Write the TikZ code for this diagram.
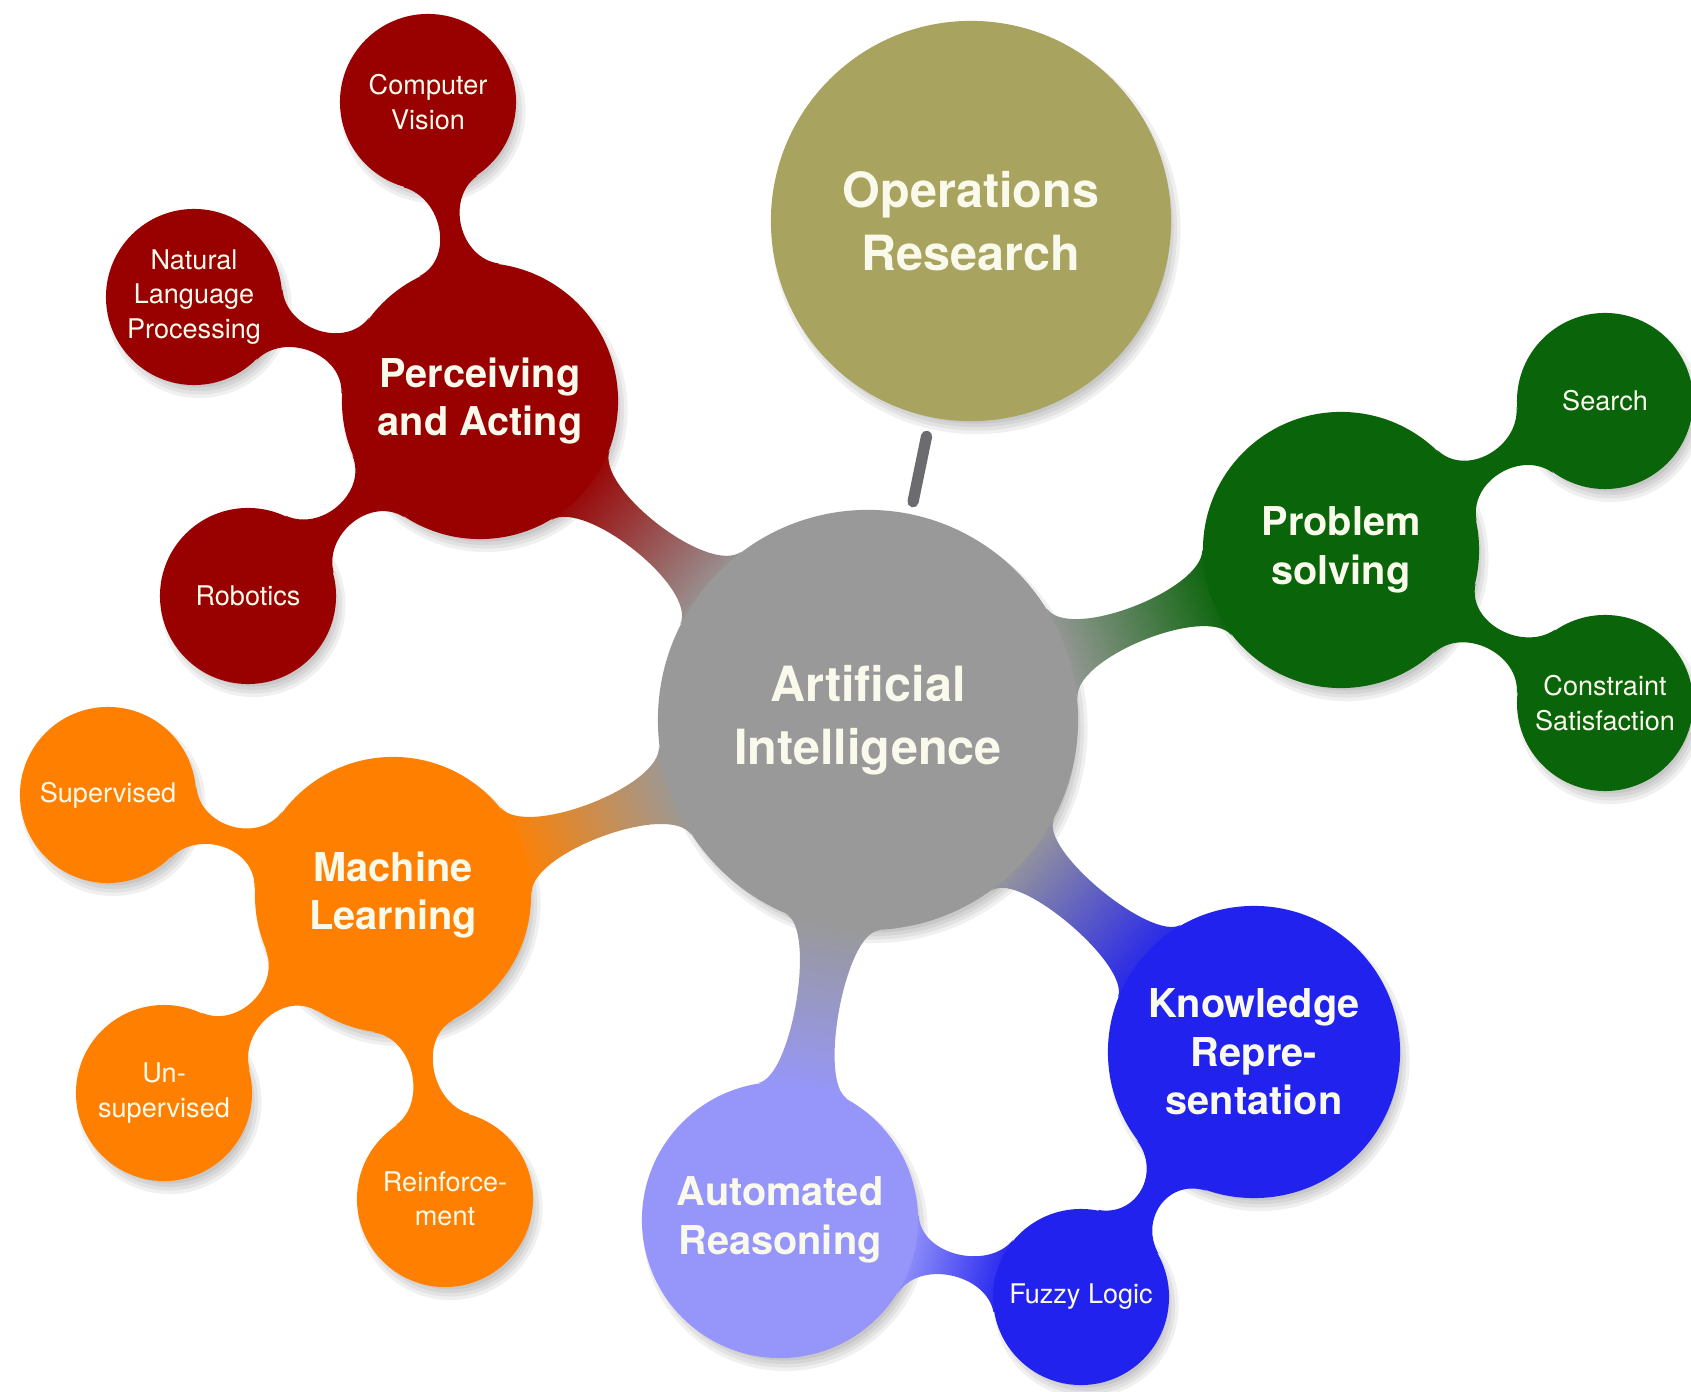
\documentclass[tikz,border=0pt]{standalone}
\usepackage{fontspec}
\setmainfont{TeX Gyre Heros}
\usetikzlibrary{calc}

\definecolor{aigray}{RGB}{153,153,153}
\definecolor{orolive}{RGB}{168,163,94}
\definecolor{pared}{RGB}{153,0,0}
\definecolor{psgreen}{RGB}{10,100,10}
\definecolor{mlorange}{RGB}{255,128,0}
\definecolor{krblue}{RGB}{34,34,238}
\definecolor{arlilac}{RGB}{150,150,250}
\definecolor{labeltext}{RGB}{250,250,236}
\definecolor{orline}{RGB}{108,108,112}

\pgfdeclarelayer{bars}
\pgfsetlayers{bars,main}

% bar between two circles: from, to, half angle at from, half angle at to, pull, colour from, colour to
\newcommand{\conbar}[7]{%
	\pgfmathanglebetweenpoints{\pgfpointanchor{#1}{center}}{\pgfpointanchor{#2}{center}}%
	\let\cbAng\pgfmathresult
	\pgfmathsetmacro{\cbA}{\cbAng+#3}%
	\pgfmathsetmacro{\cbB}{\cbAng+180-#4}%
	\pgfmathsetmacro{\cbC}{\cbAng+180+#4}%
	\pgfmathsetmacro{\cbD}{\cbAng-#3}%
	\pgfmathsetmacro{\cbOA}{\cbAng+#3-90}%
	\pgfmathsetmacro{\cbOB}{\cbAng-90-#4}%
	\pgfmathsetmacro{\cbOC}{\cbAng+90+#4}%
	\pgfmathsetmacro{\cbOD}{\cbAng+90-#3}%
	\pgfmathsetmacro{\cbSh}{\cbAng+90}%
	\shade[top color=#6, bottom color=#7, shading angle=\cbSh]
		(#1.\cbA) .. controls ($(#1.\cbA)+(\cbOA:#5)$) and ($(#2.\cbB)+(\cbOB:#5)$) .. (#2.\cbB)
		-- (#2.\cbC) .. controls ($(#2.\cbC)+(\cbOC:#5)$) and ($(#1.\cbD)+(\cbOD:#5)$) .. (#1.\cbD)
		-- cycle;
}

\begin{document}
\begin{tikzpicture}[x=0.01cm, y=0.01cm]
	\tikzstyle{every node} = [circle, inner sep=0pt, align=center, text=labeltext]
	\tikzstyle{root} = [minimum size=4.2cm, font=\bfseries\fontsize{13.8}{17.8}\selectfont]
	\tikzstyle{branch} = [minimum size=2.76cm, font=\bfseries\fontsize{11.3}{13.8}\selectfont]
	\tikzstyle{leaf} = [minimum size=1.76cm, font=\fontsize{7.7}{9.8}\selectfont]
	\useasboundingbox (0,0) rectangle (1691,-1392);

	\node[root, fill=aigray] (AI) at (868,-720) {Artificial\\Intelligence};
	\node[root, fill=orolive, minimum size=4.0cm] (OR) at (971,-221) {Operations\\Research};

	\node[branch, fill=pared] (PA) at (480,-401) {Perceiving\\and Acting};
	\node[leaf, fill=pared] (CV) at (428,-102) {Computer\\Vision};
	\node[leaf, fill=pared] (NL) at (194,-297) {Natural\\Language\\Processing};
	\node[leaf, fill=pared] (RO) at (248,-596) {Robotics};

	\node[branch, fill=psgreen] (PS) at (1341,-550) {Problem\\solving};
	\node[leaf, fill=psgreen] (SE) at (1605,-401) {Search};
	\node[leaf, fill=psgreen] (CS) at (1605,-703) {Constraint\\Satisfaction};

	\node[branch, fill=mlorange] (ML) at (393,-895) {Machine\\Learning};
	\node[leaf, fill=mlorange] (SU) at (108,-795) {Supervised};
	\node[leaf, fill=mlorange] (UN) at (164,-1093) {Un-\\supervised};
	\node[leaf, fill=mlorange] (RE) at (445,-1199) {Reinforce-\\ment};

	\node[branch, fill=krblue, minimum size=2.92cm] (KR) at (1254,-1052) {Knowledge\\Repre-\\sentation};
	\node[leaf, fill=krblue] (FL) at (1081,-1297) {Fuzzy Logic};
	\node[branch, fill=arlilac] (AR) at (780,-1220) {Automated\\Reasoning};

	\draw[line width=3.2pt, orline, line cap=round, shorten <=0.19cm, shorten >=0.12cm] (OR) -- (AI);

	\begin{pgfonlayer}{bars}
	% soft shadows
	\foreach \nd in {AI,OR,PA,CV,NL,RO,PS,SE,CS,ML,SU,UN,RE,KR,FL,AR}
		\foreach \sp in {0,1,2,3}
			\fill[black, opacity=0.06] let \p1=($(\nd.east)-(\nd.center)$) in
				([shift={(1.5pt,-2.5pt)}]\nd.center) circle ({\x1+\sp pt-2pt});
	% bars
	\conbar{AI}{PA}{13}{19}{0.40cm}{aigray}{pared}
	\conbar{AI}{PS}{13}{19}{0.40cm}{aigray}{psgreen}
	\conbar{AI}{ML}{13}{19}{0.40cm}{aigray}{mlorange}
	\conbar{AI}{KR}{13}{19}{0.34cm}{aigray}{krblue}
	\conbar{AI}{AR}{13}{19}{0.34cm}{aigray}{arlilac}
	\conbar{PA}{CV}{17}{25}{0.4cm}{pared}{pared}
	\conbar{PA}{NL}{17}{25}{0.4cm}{pared}{pared}
	\conbar{PA}{RO}{17}{25}{0.4cm}{pared}{pared}
	\conbar{PS}{SE}{17}{25}{0.4cm}{psgreen}{psgreen}
	\conbar{PS}{CS}{17}{25}{0.4cm}{psgreen}{psgreen}
	\conbar{ML}{SU}{17}{25}{0.4cm}{mlorange}{mlorange}
	\conbar{ML}{UN}{17}{25}{0.4cm}{mlorange}{mlorange}
	\conbar{ML}{RE}{17}{25}{0.4cm}{mlorange}{mlorange}
	\conbar{KR}{FL}{17}{25}{0.4cm}{krblue}{krblue}
	\conbar{AR}{FL}{17}{25}{0.4cm}{arlilac}{krblue}
	\end{pgfonlayer}
\end{tikzpicture}
\end{document}
